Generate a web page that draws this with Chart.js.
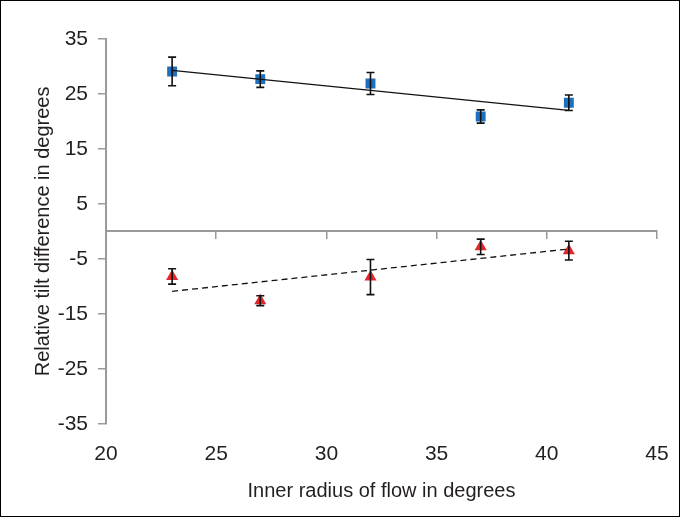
<!DOCTYPE html>
<html>
<head>
<meta charset="utf-8">
<script src="https://cdn.jsdelivr.net/npm/chart.js@4"></script>
<style>
  html, body { margin: 0; padding: 0; background: #fff; }
  #wrap { width: 680px; height: 517px; box-sizing: border-box; border: 1px solid #000; }
  canvas { display: block; }
</style>
</head>
<body>
<div id="wrap"><canvas id="c" width="678" height="515"></canvas></div>
<script>
// ===== data =====
const radii = [23, 27, 32, 37, 41];
const blueTilt = [29.1, 27.7, 26.9, 20.9, 23.4];
const blueErr = [2.6, 1.5, 2.0, 1.2, 1.4];
const redTilt = [-8.2, -12.6, -8.3, -2.8, -3.5];
const redErr = [1.4, 0.9, 3.2, 1.4, 1.7];
const trendX = [23, 41];
const blueTrend = [29.3, 22.0];
const redTrend = [-10.9, -3.2];
const yTicks = [-35, -25, -15, -5, 5, 15, 25, 35];

const textColor = '#231f20';
const axisColor = '#9a9a9a';
const tickFont = { family: 'Liberation Sans', size: 21 };
const titleFont = { family: 'Liberation Sans', size: 20 };

const pts = (xs, ys) => xs.map((x, i) => ({ x, y: ys[i] }));

// error bars drawn on top of markers
const errorBars = {
  id: 'errorBars',
  afterDatasetsDraw(chart) {
    const ctx = chart.ctx;
    const xs = chart.scales.x, ys = chart.scales.y;
    chart.data.datasets.forEach(ds => {
      if (!ds.errors) return;
      ctx.save();
      ctx.strokeStyle = '#111';
      ctx.lineWidth = 1.6;
      ds.data.forEach((p, i) => {
        const px = xs.getPixelForValue(p.x);
        const top = ys.getPixelForValue(p.y + ds.errors[i]);
        const bot = ys.getPixelForValue(p.y - ds.errors[i]);
        ctx.beginPath();
        ctx.moveTo(px, top); ctx.lineTo(px, bot);
        ctx.moveTo(px - 4, top); ctx.lineTo(px + 4, top);
        ctx.moveTo(px - 4, bot); ctx.lineTo(px + 4, bot);
        ctx.stroke();
      });
      ctx.restore();
    });
  }
};

new Chart(document.getElementById('c'), {
  type: 'scatter',
  data: {
    datasets: [
      {
        data: pts(trendX, blueTrend),
        showLine: true,
        borderColor: '#111',
        borderWidth: 1.3,
        pointRadius: 0
      },
      {
        data: pts(trendX, redTrend),
        showLine: true,
        borderColor: '#111',
        borderWidth: 1.3,
        borderDash: [6, 4],
        pointRadius: 0
      },
      {
        data: pts(radii, blueTilt),
        errors: blueErr,
        pointStyle: 'rect',
        pointRadius: 7,
        backgroundColor: '#1f6fbf',
        borderWidth: 0
      },
      {
        data: pts(radii, redTilt),
        errors: redErr,
        pointStyle: 'triangle',
        pointRadius: 7,
        backgroundColor: '#e3262b',
        borderWidth: 0
      }
    ]
  },
  options: {
    responsive: false,
    animation: false,
    layout: { padding: { top: 38, right: 22, left: 26, bottom: 9 } },
    plugins: { legend: { display: false }, tooltip: { enabled: false } },
    scales: {
      x: {
        type: 'linear',
        min: 20, max: 45,
        position: { y: 0 },
        ticks: { display: false, stepSize: 5 },
        grid: { display: true, drawOnChartArea: false, drawTicks: true, tickLength: 7, color: axisColor, lineWidth: 1.5 },
        border: { display: true, color: axisColor, width: 2 }
      },
      x2: {
        type: 'linear',
        min: 20, max: 45,
        position: 'bottom',
        ticks: { stepSize: 5, color: textColor, font: tickFont, padding: 10 },
        grid: { display: false },
        border: { display: false },
        title: { display: true, text: 'Inner radius of flow in degrees', color: textColor, font: titleFont, padding: { top: 2 } }
      },
      y: {
        type: 'linear',
        min: -35, max: 35,
        afterBuildTicks: axis => { axis.ticks = yTicks.map(v => ({ value: v })); },
        afterFit: axis => { axis.width = 79; },
        ticks: { color: textColor, font: tickFont, padding: 10 },
        grid: { display: true, drawOnChartArea: false, drawTicks: true, tickLength: 8, color: axisColor, lineWidth: 1.5 },
        border: { display: true, color: axisColor, width: 2 },
        title: { display: true, text: 'Relative tilt difference in degrees', color: textColor, font: titleFont, padding: { top: 4, bottom: 0 } }
      }
    }
  },
  plugins: [errorBars]
});
</script>
</body>
</html>
